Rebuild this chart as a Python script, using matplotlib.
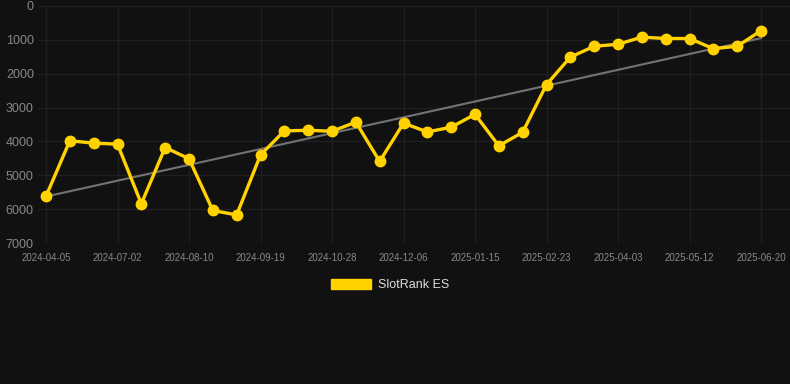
import matplotlib
matplotlib.use("Agg")
import matplotlib.pyplot as plt
from matplotlib.patches import Patch
import numpy as np

dates = ["2024-04-05", "2024-06-06", "2024-06-19", "2024-07-02", "2024-07-15", "2024-07-28",
         "2024-08-10", "2024-08-23", "2024-09-05", "2024-09-19", "2024-10-02", "2024-10-15",
         "2024-10-28", "2024-11-10", "2024-11-23", "2024-12-06", "2024-12-19", "2025-01-02",
         "2025-01-15", "2025-01-28", "2025-02-10", "2025-02-23", "2025-03-08", "2025-03-21",
         "2025-04-03", "2025-04-16", "2025-04-29", "2025-05-12", "2025-05-25", "2025-06-07",
         "2025-06-20"]
rank = [5620, 3980, 4050, 4080, 5840, 4180, 4510, 6040, 6170, 4400, 3690, 3670,
        3700, 3430, 4590, 3460, 3720, 3580, 3200, 4130, 3730, 2320, 1510, 1190,
        1130, 920, 960, 960, 1260, 1190, 730]
series_name = "SlotRank ES"
yticks = [0, 1000, 2000, 3000, 4000, 5000, 6000, 7000]

BG = "#111111"
GOLD = "#FFD200"
W, H = 790, 384

plt.rcParams['font.family'] = ['Liberation Sans', 'DejaVu Sans']
fig = plt.figure(figsize=(W / 100, H / 100), dpi=100, facecolor=BG)
left, right, top, bottom = 38, 790, 6, 243
ax = fig.add_axes([left / W, 1 - bottom / H, (right - left) / W, (bottom - top) / H], facecolor=BG)

x = np.arange(len(dates))
y = np.array(rank, dtype=float)

# trend line (least squares)
k, b = np.polyfit(x, y, 1)
ax.plot(x, k * x + b, color="#737373", lw=1.5, zorder=2)

ax.plot(x, y, color=GOLD, lw=2.4, marker="o", markersize=7.5, markerfacecolor=GOLD,
        markeredgecolor=GOLD, zorder=3, clip_on=False)

ax.set_ylim(7000, 0)
ax.set_yticks(yticks)
ax.set_yticklabels([str(v) for v in yticks])
px = (761 - 46) / (len(dates) - 1)
ax.set_xlim(-(46 - left) / px, len(dates) - 1 + (right - 761) / px)
ax.set_xticks(x[::3])
ax.set_xticklabels(dates[::3])

for s in ax.spines.values():
    s.set_visible(False)
ax.grid(True, color="#1f1f1f", lw=1.0, zorder=0)
ax.tick_params(axis="y", length=0, pad=3, labelsize=9, labelcolor="#888888")
ax.tick_params(axis="x", length=0, pad=7, labelsize=7, labelcolor="#888888")

handle = Patch(facecolor=GOLD, edgecolor=GOLD)
fig.legend([handle], [series_name], loc="center", bbox_to_anchor=(390 / W, 1 - 285 / H),
           frameon=False, fontsize=9, labelcolor="#dddddd", handlelength=3.2,
           handleheight=0.9, handletextpad=0.5)

fig.savefig("out.png", dpi=100, facecolor=BG)
